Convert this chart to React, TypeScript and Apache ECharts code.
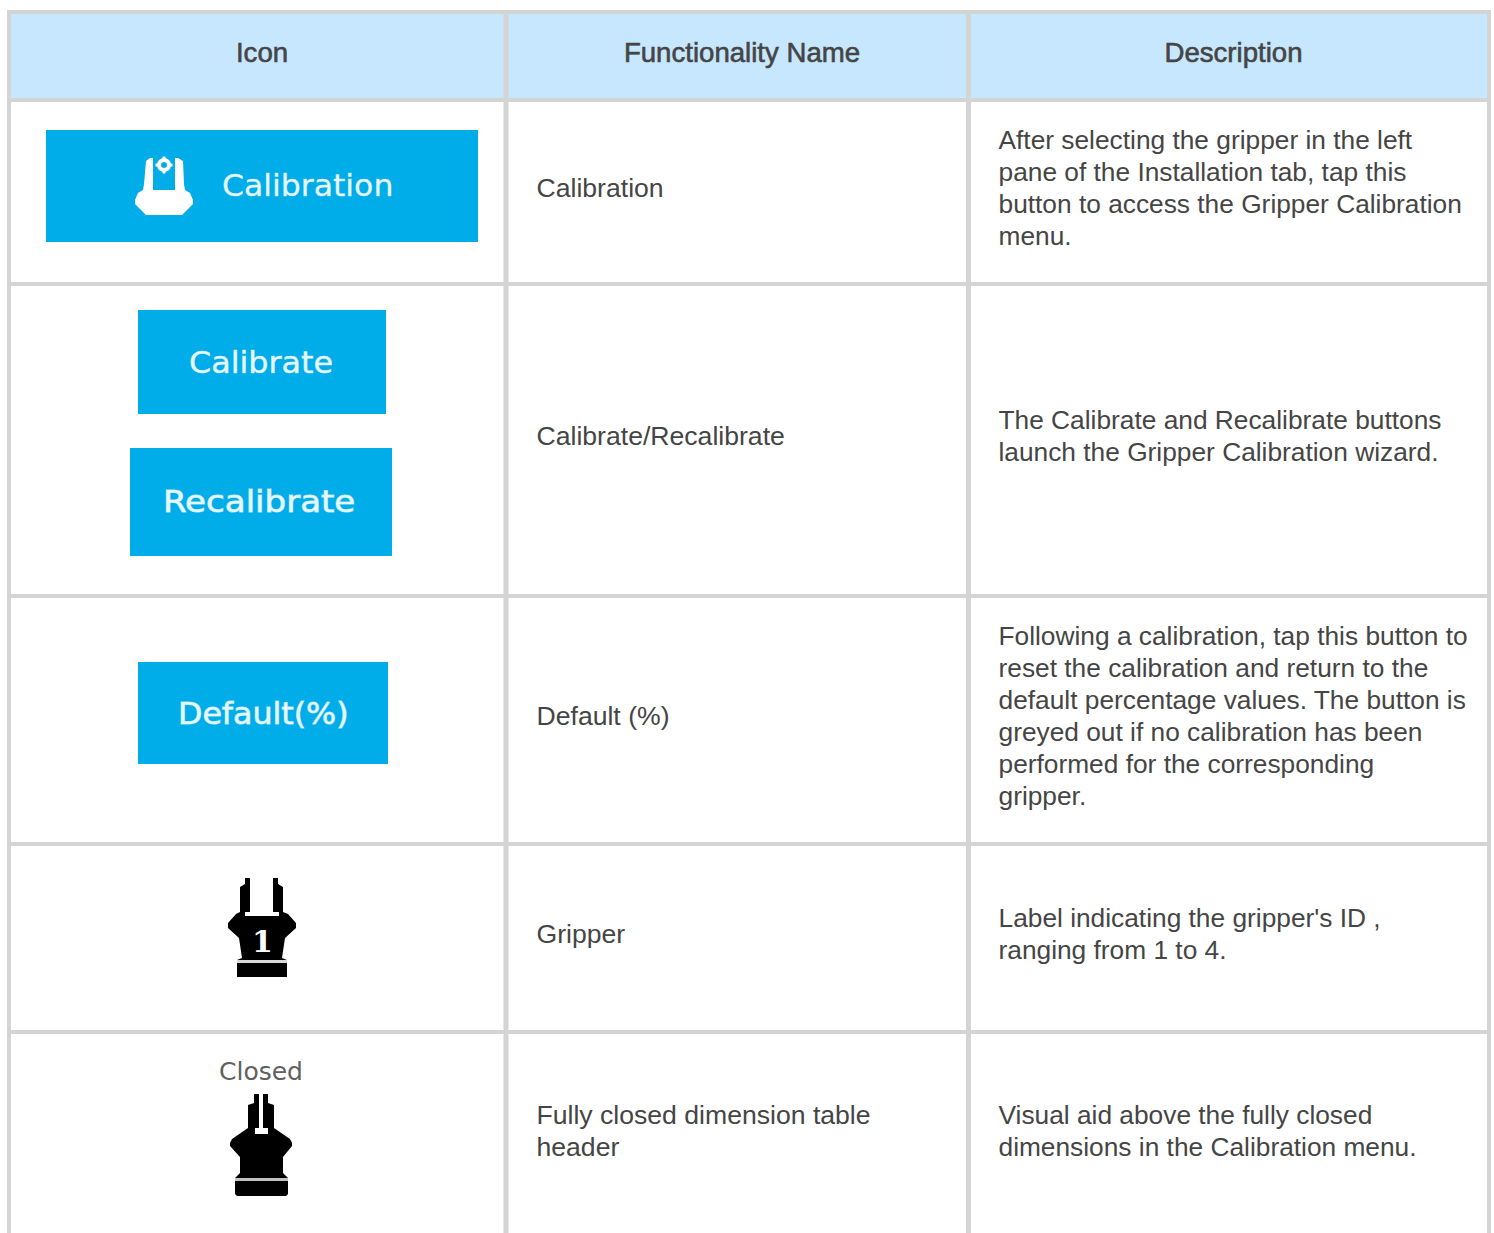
import React, { useEffect, useRef } from "react";
import * as echarts from "echarts";

const headers = ["Icon", "Functionality Name", "Description"];
const names = [
  ["Calibration"],
  ["Calibrate/Recalibrate"],
  ["Default (%)"],
  ["Gripper"],
  ["Fully closed dimension table", "header"],
];
const descriptions = [
  ["After selecting the gripper in the left", "pane of the Installation tab, tap this", "button to access the Gripper Calibration", "menu."],
  ["The Calibrate and Recalibrate buttons", "launch the Gripper Calibration wizard."],
  ["Following a calibration, tap this button to", "reset the calibration and return to the", "default percentage values. The button is", "greyed out if no calibration has been", "performed for the corresponding", "gripper."],
  ["Label indicating the gripper's ID ,", "ranging from 1 to 4."],
  ["Visual aid above the fully closed", "dimensions in the Calibration menu."],
];
const rowCenters = [187.5, 435.5, 715.5, 933.5, 1130.5];

const rowLines = [10, 98, 282, 594, 842, 1030];
const colLines = [7, 503.5, 966, 1487];

const GRID = "#d4d4d4";
const HEAD = "#c7e7fe";
const BLUE = "#00ade9";
const INK = "#454545";
const BODY_FONT = '"Liberation Sans", Arial, sans-serif';
const ICON_FONT = '"DejaVu Sans", sans-serif';

const buttons = [
  { x: 46, y: 130, w: 432, h: 112, label: "Calibration", tx: 222, ty: 185, size: 30, sx: 1.05, sw: 0.4 },
  { x: 138, y: 310, w: 248, h: 104, label: "Calibrate", tx: 189, ty: 362, size: 30, sx: 1.06, sw: 0.6 },
  { x: 130, y: 448, w: 262, h: 108, label: "Recalibrate", tx: 163, ty: 502, size: 30, sx: 1.135, sw: 1 },
  { x: 138, y: 662, w: 250, h: 102, label: "Default(%)", tx: 178, ty: 713, size: 30, sx: 1.056, sw: 1 },
];

const CALIB_ICON =
  "M146 161 L150 158 L153 158 L153 190 L175 190 L175 158 L178 158 L183 161 L184 184 L185 190 L190 193 L193 200 L193 204 L188 209 L182 215 L146 215 L140 209 L135 204 L135 200 L138 193 L143 190 L144 184 Z";
const GRIPPER_ICON =
  "M245 878 L250 878 L250 912 L245 912 L245 916 L279 916 L279 912 L273 912 L273 878 L278 878 L278 884 L283 887 L283 912 L288 914 L296 923 L296 928 L285 938 L282 958 L287 960 L287 977 L237 977 L237 960 L242 958 L239 938 L228 928 L228 923 L236 914 L240 912 L240 887 L245 884 Z";
const CLOSED_ICON =
  "M254 1094 L259 1094 L259 1128 L263 1128 L263 1094 L268 1094 L268 1103 L274 1105 L274 1128 L290 1139 L292 1143 L292 1146 L283 1157 L283 1173 L288 1178 L288 1194 L286 1196 L237 1196 L235 1194 L235 1178 L240 1173 L240 1157 L230 1146 L230 1143 L232 1139 L248 1128 L248 1105 L254 1103 Z";

echarts.graphic.registerShape("calibIcon", echarts.graphic.extendPath(CALIB_ICON, {}));
echarts.graphic.registerShape("gripperIcon", echarts.graphic.extendPath(GRIPPER_ICON, {}));
echarts.graphic.registerShape("closedIcon", echarts.graphic.extendPath(CLOSED_ICON, {}));

function rect(x: number, y: number, w: number, h: number, fill: string) {
  return { type: "rect", shape: { x, y, width: w, height: h }, style: { fill } };
}
function text(t: string, x: number, y: number, o: any = {}) {
  return {
    type: "text",
    x,
    y,
    style: {
      text: t,
      fill: INK,
      font: `${o.weight || "normal"} ${o.size || 26.3}px ${o.family || BODY_FONT}`,
      textAlign: o.align || "left",
      textVerticalAlign: "middle",
      verticalAlign: "middle",
      ...(o.style || {}),
    },
    ...(o.extra || {}),
  };
}

function buildGraphic() {
  const els: any[] = [];
  els.push(rect(0, 0, 1494, 1233, "#ffffff"));
  els.push(rect(colLines[0], rowLines[0], colLines[3] - colLines[0] + 4, rowLines[1] - rowLines[0], HEAD));
  rowLines.forEach((y) => els.push(rect(colLines[0], y, colLines[3] - colLines[0] + 4, 4, GRID)));
  colLines.forEach((x, i) => els.push(rect(x, rowLines[0], i === 1 || i === 2 ? 5 : 4, 1233 - rowLines[0], GRID)));

  const headCenters = [262, 742, 1233.5];
  headers.forEach((h, i) => {
    els.push(text(h, headCenters[i], 52, { align: "center", size: 27.6, style: { stroke: INK, lineWidth: 0.6 } }));
  });

  names.forEach((lines, r) => {
    const start = rowCenters[r] - ((lines.length - 1) * 32) / 2;
    lines.forEach((l, i) => els.push(text(l, 536.5, start + i * 32, { size: 26.6 })));
  });
  descriptions.forEach((lines, r) => {
    const start = rowCenters[r] - ((lines.length - 1) * 32) / 2;
    lines.forEach((l, i) => els.push(text(l, 998.5, start + i * 32)));
  });

  buttons.forEach((b) => {
    els.push(rect(b.x, b.y, b.w, b.h, BLUE));
    els.push(
      text(b.label, b.tx, b.ty, {
        family: ICON_FONT,
        size: b.size,
        style: { fill: "#e6f7fe", stroke: "rgba(230,247,254,0.7)", lineWidth: b.sw },
        extra: { scaleX: b.sx, originX: 0, originY: 0 },
      }),
    );
  });

  els.push({ type: "calibIcon", style: { fill: "#ffffff" } });
  els.push({ type: "ring", shape: { cx: 164, cy: 165, r: 7, r0: 3 }, style: { fill: "#ffffff" } });
  els.push(rect(162.5, 156.5, 3, 17, "#ffffff"));
  els.push(rect(155.5, 163.5, 17, 3, "#ffffff"));
  els.push({ type: "circle", shape: { cx: 164, cy: 165, r: 3 }, style: { fill: BLUE } });

  els.push({ type: "gripperIcon", style: { fill: "#000000" } });
  els.push(text("1", 262.5, 941, { align: "center", family: '"DejaVu Serif", serif', weight: "bold", size: 30, style: { fill: "#ffffff" } }));
  els.push(rect(237, 960, 50, 3, "#d8d8d8"));

  els.push(text("Closed", 261, 1071.5, { align: "center", family: ICON_FONT, size: 25, style: { fill: "#606060" } }));
  els.push({ type: "closedIcon", style: { fill: "#000000" } });
  els.push(rect(255, 1128, 13, 6, "#ffffff"));
  els.push(rect(235, 1178, 53, 3, "#c0c0c0"));
  return els;
}

export default function App() {
  const ref = useRef<HTMLDivElement>(null);
  useEffect(() => {
    const chart = echarts.init(ref.current!, undefined, { renderer: "svg" });
    chart.setOption({ animation: false, backgroundColor: "#ffffff", graphic: { elements: buildGraphic() } });
    return () => chart.dispose();
  }, []);
  return <div ref={ref} style={{ position: "fixed", left: 0, top: 0, width: 1494, height: 1233 }} />;
}
